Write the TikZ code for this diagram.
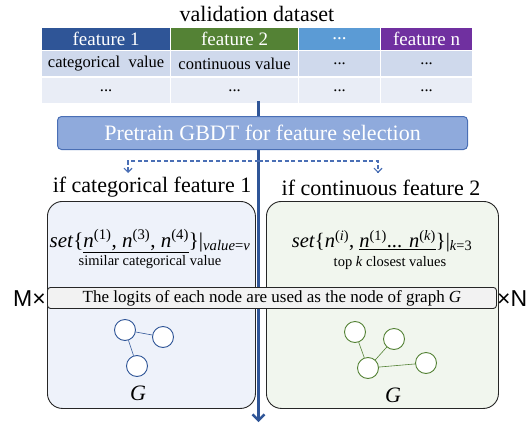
\documentclass[tikz,border=0pt]{standalone}
\usepackage{fontspec}
\setmainfont{Liberation Serif}
\newfontfamily\sanslab{Liberation Sans}
\usetikzlibrary{positioning,arrows.meta}

\definecolor{featblue}{HTML}{2F5597}
\definecolor{featgreen}{HTML}{548235}
\definecolor{featsky}{HTML}{5B9BD5}
\definecolor{featpurple}{HTML}{7030A0}
\definecolor{rowdark}{HTML}{CFD9EC}
\definecolor{rowlight}{HTML}{E9EDF6}
\definecolor{gbdtfill}{HTML}{8FAADC}
\definecolor{gbdtline}{HTML}{4A6FB5}
\definecolor{catfill}{HTML}{EEF2FA}
\definecolor{contfill}{HTML}{F1F6EE}
\definecolor{bannerfill}{HTML}{F2F2F2}

\newcommand{\fsz}[1]{\fontsize{#1}{#1}\selectfont}

\begin{document}
\begin{tikzpicture}[x=1pt,y=-1pt,
  cell/.style={draw=white,line width=1.2pt,anchor=north west,inner sep=0pt,minimum height=#1},
  head/.style={cell=23pt,fill=#1,text=white,font=\fsz{19}},
  valrow/.style={cell=26pt,fill=#1,font=\fsz{16.5}},
  panel/.style={draw=black!85,line width=0.9pt,rounded corners=15pt,anchor=north west,
                minimum height=207pt,inner sep=0pt},
  gnode/.style={circle,draw=#1,fill=white,line width=0.9pt,minimum size=21pt,inner sep=0pt},
  gedge/.style={draw=#1,line width=0.6pt},
  dimlab/.style={font=\sanslab\fsz{23},inner sep=0pt},
  mainarr/.style={featblue,line width=2.4pt,-{Straight Barb[length=6pt,width=12pt]}},
  dasharr/.style={gbdtline,dash pattern=on 4pt off 2.5pt,line width=1.1pt,
                  -{Straight Barb[length=4pt,width=8pt]}}]

  \useasboundingbox (0,0) rectangle (532,425);

  % dataset table
  \node[font=\fsz{22}] (title) at (257,14) {validation dataset};

  \node[head=featblue,minimum width=129pt] (h1) at (41,27) {feature 1};
  \node[head=featgreen,minimum width=128pt] (h2) at (170,27) {feature 2};
  \node[head=featsky,minimum width=82pt] (h3) at (298,27) {...};
  \node[head=featpurple,minimum width=92pt] (h4) at (380,27) {feature n};

  \node[valrow=rowdark,minimum width=129pt] (v11) at (41,50) {categorical\ \ value};
  \node[valrow=rowdark,minimum width=128pt] (v12) at (170,50) {continuous value};
  \node[valrow=rowdark,minimum width=82pt] (v13) at (298,50) {...};
  \node[valrow=rowdark,minimum width=92pt] (v14) at (380,50) {...};

  \node[valrow=rowlight,minimum width=129pt] (v21) at (41,77) {...};
  \node[valrow=rowlight,minimum width=128pt] (v22) at (170,77) {...};
  \node[valrow=rowlight,minimum width=82pt] (v23) at (298,77) {...};
  \node[valrow=rowlight,minimum width=92pt] (v24) at (380,77) {...};

  % main flow
  \coordinate (flowtop) at (258.5,101);
  \coordinate (flowend) at (258.5,422);
  \draw[mainarr] (flowtop) -- (flowend);

  \node[draw=gbdtline,fill=gbdtfill,rounded corners=4pt,line width=1pt,anchor=north west,
        minimum width=410pt,minimum height=33pt,text=white,font=\fsz{22}] (gbdt) at (57,116)
        {Pretrain GBDT for feature selection};

  \coordinate (split) at (258.5,161);
  \coordinate (catin) at (128,173);
  \coordinate (contin) at (378,173);
  \draw[dasharr] (split) -| (catin);
  \draw[dasharr] (split) -| (contin);

  \node[font=\fsz{22}] (catlab) at (152,187) {if categorical feature 1};
  \node[font=\fsz{22}] (contlab) at (381,188) {if continuous feature 2};

  % two branches
  \node[panel,fill=catfill,minimum width=208pt] (catbox) at (47,201) {};
  \node[panel,fill=contfill,minimum width=232pt] (contbox) at (266,201) {};

  \node[font=\fsz{21}] (catset) at (150,241)
    {\textit{set}\{\underline{\textit{n}\textsuperscript{(1)}, \textit{n}\textsuperscript{(3)}, \textit{n}\textsuperscript{(4)}}\}|\textsubscript{\textit{value}=\textit{v}}};
  \node[font=\fsz{14.5}] (catnote) at (150,262) {similar categorical value};

  \node[font=\fsz{20.5}] (contset) at (382,241)
    {\textit{set}\{\textit{n}\textsuperscript{(\textit{i})}, \underline{\textit{n}\textsuperscript{(1)}... \textit{n}\textsuperscript{(\textit{k})}}\}|\textsubscript{\textit{k}=3}};
  \node[font=\fsz{14.5}] (contnote) at (390,263) {top \textit{k} closest values};

  \node[draw=black!85,fill=bannerfill,rounded corners=3pt,line width=0.9pt,anchor=north west,
        minimum width=449pt,minimum height=21pt,inner sep=0pt,font=\fsz{17}] (logits) at (47,287)
        {The logits of each node are used as the node of graph \textit{G}};
  \node[dimlab,anchor=east] (mdim) at (46,299) {M×};
  \node[dimlab,anchor=west] (ndim) at (497,299) {×N};

  % graphs
  \node[gnode=featblue] (ca) at (125,330) {};
  \node[gnode=featblue] (cb) at (163,337) {};
  \node[gnode=featblue] (cc) at (137,366) {};
  \draw[gedge=featblue] (ca) -- (cb) (ca) -- (cc);
  \node[font=\fsz{22}] (catg) at (138,393) {\textit{G}};

  \node[gnode=featgreen] (na) at (355,332) {};
  \node[gnode=featgreen] (nb) at (394,339) {};
  \node[gnode=featgreen] (nc) at (368,368) {};
  \node[gnode=featgreen] (nd) at (426,363) {};
  \draw[gedge=featgreen] (na) -- (nc) (nb) -- (nc) (nc) -- (nd);
  \node[font=\fsz{22}] (contg) at (393,395) {\textit{G}};
\end{tikzpicture}
\end{document}
